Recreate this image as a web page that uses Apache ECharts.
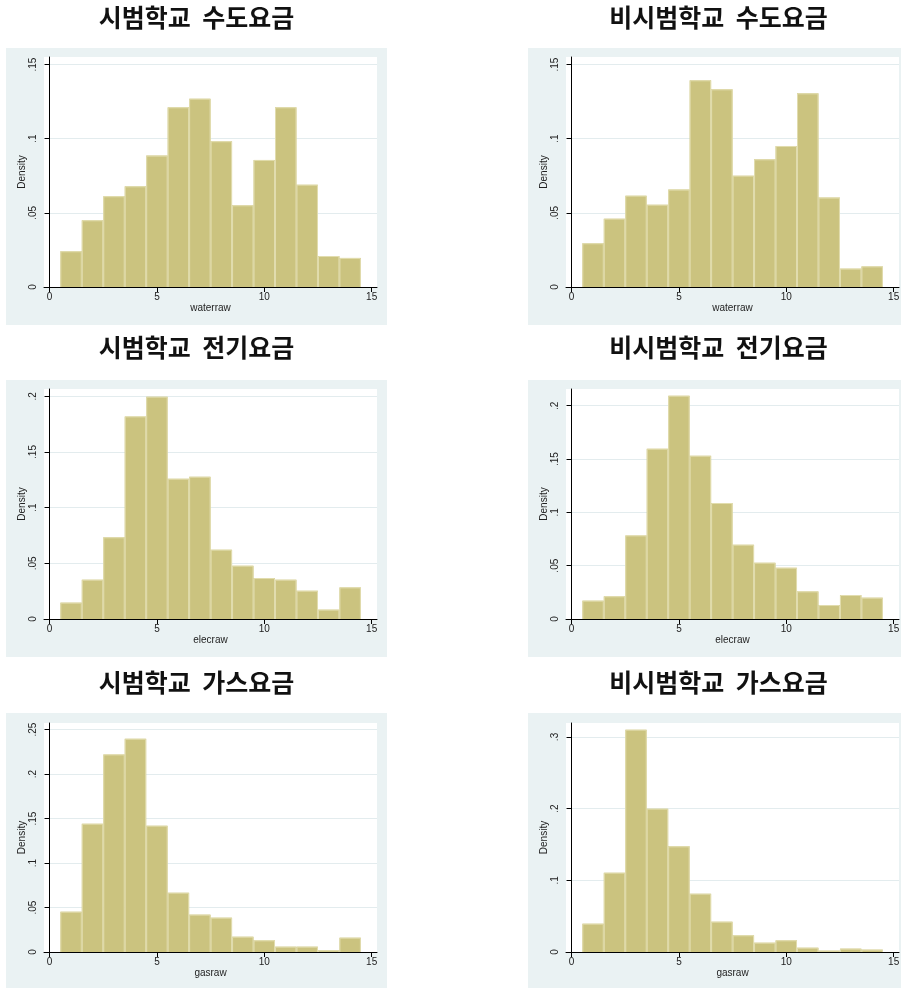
<!DOCTYPE html>
<html>
<head>
<meta charset="utf-8">
<script src="https://cdn.jsdelivr.net/npm/echarts@6.0.0/dist/echarts.min.js"></script>
<style>
  html, body { margin: 0; padding: 0; background: #fff; }
  #chart { width: 901px; height: 988px; }
</style>
</head>
<body>
<div id="chart"></div>
<script>
// histogram bins: centres of width-1 bins
var bins = [1, 2, 3, 4, 5, 6, 7, 8, 9, 10, 11, 12, 13, 14];

// densities
var waterPilot    = [0.0241, 0.0450, 0.0612, 0.0679, 0.0886, 0.1212, 0.1270, 0.0983, 0.0551, 0.0857, 0.1212, 0.0690, 0.0209, 0.0196];
var waterNonPilot = [0.0295, 0.0461, 0.0616, 0.0555, 0.0657, 0.1394, 0.1333, 0.0751, 0.0861, 0.0951, 0.1306, 0.0603, 0.0124, 0.0139];
var elecPilot     = [0.0147, 0.0353, 0.0734, 0.1820, 0.1997, 0.1260, 0.1278, 0.0623, 0.0479, 0.0368, 0.0353, 0.0254, 0.0084, 0.0284];
var elecNonPilot  = [0.0172, 0.0213, 0.0784, 0.1597, 0.2094, 0.1531, 0.1088, 0.0697, 0.0528, 0.0481, 0.0259, 0.0131, 0.0225, 0.0200];
var gasPilot      = [0.0453, 0.1442, 0.2221, 0.2397, 0.1420, 0.0667, 0.0420, 0.0386, 0.0172, 0.0131, 0.0060, 0.0060, 0.0019, 0.0161];
var gasNonPilot   = [0.0395, 0.1107, 0.3102, 0.2000, 0.1474, 0.0814, 0.0423, 0.0233, 0.0130, 0.0163, 0.0060, 0.0019, 0.0047, 0.0033];

var titles = ['시범학교  수도요금', '비시범학교  수도요금', '시범학교  전기요금', '비시범학교  전기요금', '시범학교  가스요금', '비시범학교  가스요금'];
var xNames = ['waterraw', 'waterraw', 'elecraw', 'elecraw', 'gasraw', 'gasraw'];
var xTicks = [0, 5, 10, 15];
var yTicks = [
  [0, 0.05, 0.1, 0.15],
  [0, 0.05, 0.1, 0.15],
  [0, 0.05, 0.1, 0.15, 0.2],
  [0, 0.05, 0.1, 0.15, 0.2],
  [0, 0.05, 0.1, 0.15, 0.2, 0.25],
  [0, 0.1, 0.2, 0.3]
];
var yMax = [0.1551, 0.1551, 0.2066, 0.2157, 0.2574, 0.3195];
var series = [waterPilot, waterNonPilot, elecPilot, elecNonPilot, gasPilot, gasNonPilot];

// layout (px)
var colLeft = [44, 566];
var rowTop = [57, 389, 723];
var rowHeight = [230, 230, 229];
var boxLeft = [6, 528];
var boxTop = [48, 380, 713];
var boxHeight = [277, 277, 275];
var titleX = [196.5, 718.5];
var titleY = [17, 347, 682];

var FONT = '"Liberation Sans", Arial, sans-serif';

function renderBar(params, api) {
  var c = api.value(0);
  var p0 = api.coord([c - 0.5, api.value(1)]);
  var p1 = api.coord([c + 0.5, 0]);
  return {
    type: 'group',
    children: [
      {
        type: 'rect',
        shape: { x: p0[0], y: p0[1], width: p1[0] - p0[0], height: p1[1] - p0[1] },
        style: { fill: '#CBC37F' }
      },
      {
        type: 'polyline',
        shape: { points: [[p0[0] + 0.5, p1[1]], [p0[0] + 0.5, p0[1] + 0.5], [p1[0] - 0.5, p0[1] + 0.5], [p1[0] - 0.5, p1[1]]] },
        style: { fill: null, stroke: '#E2DDAF', lineWidth: 1 }
      }
    ]
  };
}

var grids = [], xAxes = [], yAxes = [], seriesList = [], graphics = [];

for (var i = 0; i < 6; i++) {
  var col = i % 2, row = Math.floor(i / 2);

  graphics.push({
    type: 'rect', z: -10, silent: true,
    shape: { x: boxLeft[col], y: boxTop[row], width: 381, height: boxHeight[row] },
    style: { fill: '#EAF2F3' }
  });
  graphics.push({
    type: 'text', silent: true,
    x: titleX[col], y: titleY[row],
    style: {
      text: titles[i],
      font: 'bold 25px "Noto Sans CJK KR", sans-serif',
      fill: '#111',
      textAlign: 'center',
      textVerticalAlign: 'middle'
    }
  });

  grids.push({
    left: colLeft[col], top: rowTop[row], width: 333, height: rowHeight[row],
    show: true, backgroundColor: '#fff', borderWidth: 0,
    containLabel: false, outerBoundsMode: 'none'
  });

  xAxes.push({
    type: 'value', gridIndex: i, min: -0.26, max: 15.25, z: 3,
    name: xNames[i], nameLocation: 'middle', nameGap: 16,
    nameTextStyle: { fontFamily: FONT, fontSize: 10, color: '#222' },
    axisLine: { show: true, onZero: false, lineStyle: { color: '#000', width: 1 } },
    axisTick: { show: true, customValues: xTicks, length: 5, lineStyle: { color: '#000' } },
    axisLabel: { customValues: xTicks, margin: 5, fontFamily: FONT, fontSize: 10, color: '#222' },
    splitLine: { show: false }
  });

  yAxes.push({
    type: 'value', gridIndex: i, min: 0, max: yMax[i],
    name: 'Density', nameLocation: 'middle', nameGap: 17,
    nameTextStyle: { fontFamily: FONT, fontSize: 10, color: '#222' },
    axisLine: { show: true, lineStyle: { color: '#000', width: 1 } },
    axisTick: { show: true, customValues: yTicks[i], length: 5, lineStyle: { color: '#000' } },
    axisLabel: {
      customValues: yTicks[i], rotate: 90, margin: 6,
      fontFamily: FONT, fontSize: 10, color: '#222',
      formatter: function (v) { return v === 0 ? '0' : String(v).replace(/^0\./, '.'); }
    },
    splitLine: { show: true, lineStyle: { color: '#E3ECEE', width: 1 } }
  });

  seriesList.push({
    type: 'custom', xAxisIndex: i, yAxisIndex: i,
    renderItem: renderBar,
    encode: { x: 0, y: 1 },
    data: bins.map(function (b, k) { return [b, series[i][k]]; }),
    silent: true
  });
}

var chart = echarts.init(document.getElementById('chart'));
chart.setOption({
  animation: false,
  graphic: graphics,
  grid: grids,
  xAxis: xAxes,
  yAxis: yAxes,
  series: seriesList
});
</script>
</body>
</html>
